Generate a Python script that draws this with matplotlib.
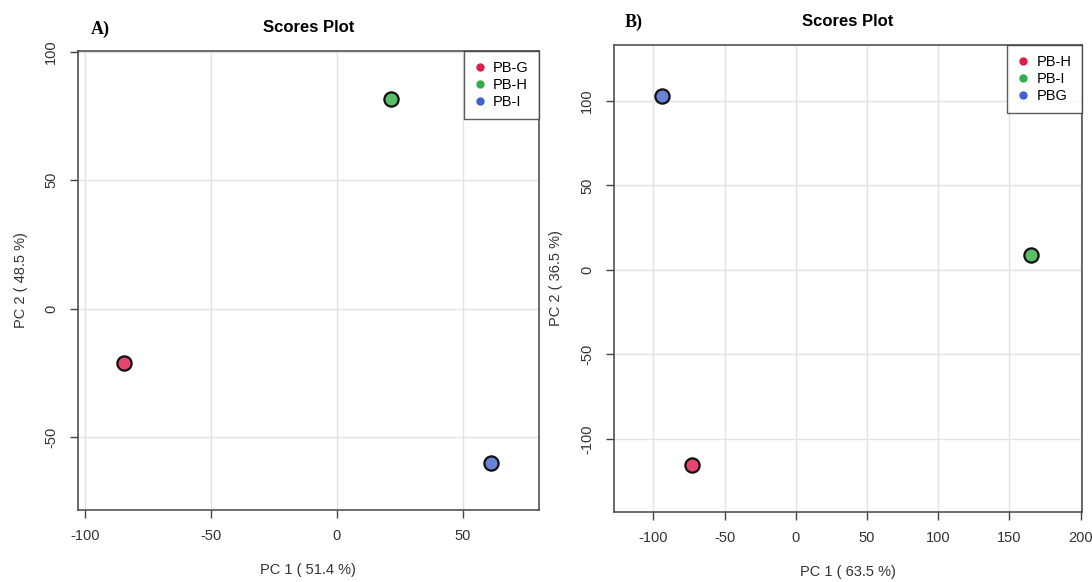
import matplotlib.pyplot as plt

plt.rcParams['font.family'] = ['Liberation Sans', 'DejaVu Sans']
plt.rcParams['axes.unicode_minus'] = False

# panel A data
groups_a = ['PB-G', 'PB-H', 'PB-I']
pc1_a = [-84.3, 21.6, 61.1]
pc2_a = [-21.0, 81.6, -60.1]

# panel B data
groups_b = ['PB-H', 'PB-I', 'PBG']
pc1_b = [-72.7, 165.2, -94.0]
pc2_b = [-115.5, 8.9, 103.0]

fill_colors = ['#E6456E', '#58BF66', '#6782D8']
legend_colors = ['#DC1C4A', '#2EAF4C', '#3B62CF']


def scores_plot(ax, xs, ys, names, xlabel, ylabel, xlim, ylim, xticks, yticks):
    ax.set_xlim(*xlim)
    ax.set_ylim(*ylim)
    ax.set_xticks(xticks)
    ax.set_yticks(yticks)
    ax.grid(True, color='#e2e2e2', linewidth=1.0)
    ax.set_axisbelow(True)
    for x, y, c in zip(xs, ys, fill_colors):
        ax.scatter(x, y, s=105, color=c, edgecolor='#111111', linewidth=1.6, zorder=3)
    handles = [plt.Line2D([], [], marker='o', linestyle='', markersize=5,
                          markerfacecolor=c, markeredgecolor=c) for c in legend_colors]
    leg = ax.legend(handles, names, loc='upper right', frameon=True, fancybox=False,
                    fontsize=10.5, handlelength=0.8, handletextpad=0.5, borderpad=0.7,
                    labelspacing=0.2, borderaxespad=0.0)
    leg.get_frame().set_edgecolor('#333333')
    leg.get_frame().set_linewidth(1.0)
    for s in ax.spines.values():
        s.set_color('#444444')
        s.set_linewidth(1.1)
    ax.tick_params(direction='out', length=6, width=1.0, color='#444444',
                   labelsize=10.5, labelcolor='#333333', pad=8)
    for lab in ax.get_yticklabels():
        lab.set_rotation(90)
        lab.set_va('center')
    ax.set_xlabel(xlabel, fontsize=10.5, color='#333333', labelpad=14)
    ax.set_ylabel(ylabel, fontsize=10.5, color='#333333', labelpad=12)
    ax.set_title('Scores Plot', fontsize=12, fontweight='bold', pad=14)


fig = plt.figure(figsize=(10.92, 5.82), dpi=100)
ax_a = fig.add_axes([0.0711, 0.1237, 0.4223, 0.7887])
ax_b = fig.add_axes([0.5619, 0.1208, 0.4285, 0.8019])

scores_plot(ax_a, pc1_a, pc2_a, groups_a, 'PC 1 ( 51.4 %)', 'PC 2 ( 48.5 %)',
            (-102.8, 80.1), (-78.4, 100.3), [-100, -50, 0, 50], [-50, 0, 50, 100])
scores_plot(ax_b, pc1_b, pc2_b, groups_b, 'PC 1 ( 63.5 %)', 'PC 2 ( 36.5 %)',
            (-128, 200.7), (-143, 133.1), [-100, -50, 0, 50, 100, 150, 200],
            [-100, -50, 0, 50, 100])

fig.text(0.083, 0.95, 'A)', fontsize=13, fontweight='bold', family='Liberation Serif',
         va='center')
fig.text(0.572, 0.962, 'B)', fontsize=13, fontweight='bold', family='Liberation Serif',
         va='center')

fig.savefig('out.png', dpi=100)
